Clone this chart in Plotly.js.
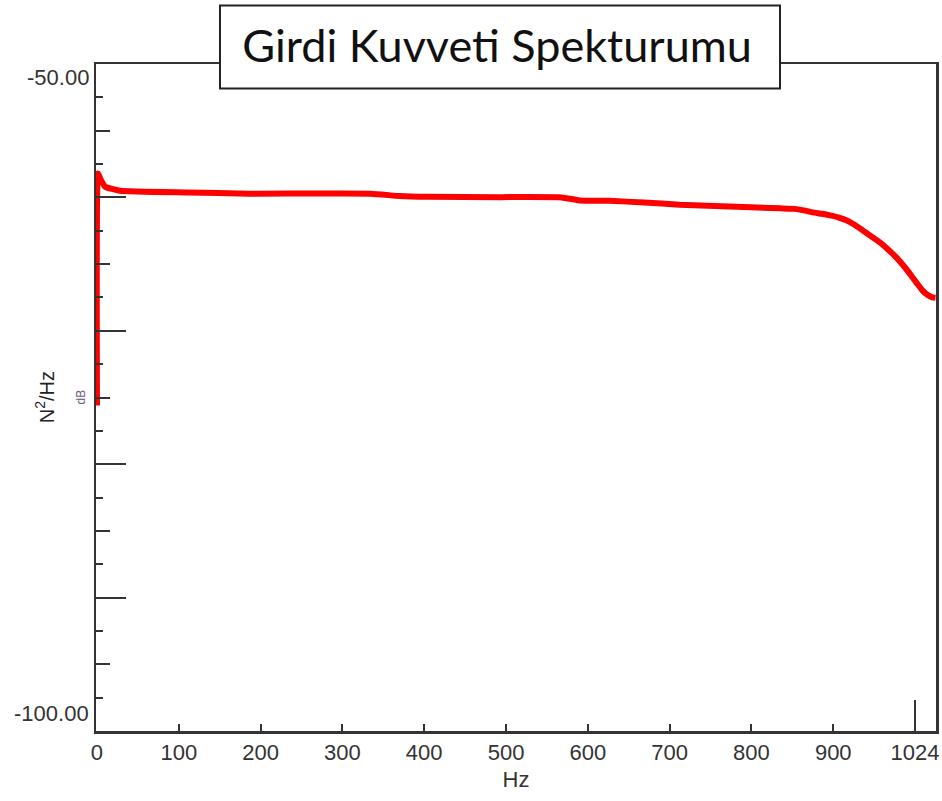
<!DOCTYPE html>
<html>
<head>
<meta charset="utf-8">
<script src="https://cdn.plot.ly/plotly-3.0.1.min.js"></script>
<style>html,body{margin:0;padding:0;background:#fff;}#chart{width:942px;height:801px;}</style>
</head>
<body>
<div id="chart"></div>
<script>
// ---- data ----
const freqHz = [0, 1.2, 4, 10, 28, 110, 186, 335, 370, 404, 492, 568, 590, 626, 669, 712, 764, 835, 853, 864, 875, 886, 896, 906, 916, 926, 936, 946, 957, 967, 977, 987, 997, 1003, 1009, 1015, 1021, 1025];
const psdDb  = [-75.6, -58.2, -58.6, -59.2, -59.5, -59.63, -59.72, -59.72, -59.9, -59.96, -59.98, -60.0, -60.23, -60.26, -60.38, -60.55, -60.67, -60.82, -60.86, -60.97, -61.12, -61.23, -61.35, -61.5, -61.72, -62.05, -62.47, -62.9, -63.37, -63.9, -64.5, -65.2, -66.0, -66.5, -66.97, -67.3, -67.49, -67.52];

const xTickVals = [0, 100, 200, 300, 400, 500, 600, 700, 800, 900, 1000];
const xTickText = ['0', '100', '200', '300', '400', '500', '600', '700', '800', '900', '1024'];
const xLongTick = [1000];
const yLongTicks = [-90, -80, -70, -60];
const yEndVals = [-50, -100];
const yEndText = ['-50.00', '-100.00'];

const titleText = 'Girdi Kuvveti Spekturumu';
const xTitle = 'Hz';
const yTitle = 'N<sup>2</sup>/Hz';
const yUnit = 'dB';

const tickFont = {family: 'Liberation Sans, Arial, sans-serif', size: 22, color: '#333'};

const trace = {
  x: freqHz, y: psdDb, type: 'scatter', mode: 'lines',
  line: {color: '#ff0000', width: 6, shape: 'spline', smoothing: 0.4},
  cliponaxis: false, hoverinfo: 'skip', showlegend: false
};
// helper invisible trace for the overlay axes
const trace2 = {x: [freqHz[0]], y: [psdDb[0]], xaxis: 'x2', yaxis: 'y2', mode: 'markers', marker: {opacity: 0}, showlegend: false, hoverinfo: 'skip'};

const layout = {
  width: 942, height: 801,
  margin: {l: 96, r: 6, t: 64, b: 70, pad: 0},
  paper_bgcolor: '#ffffff', plot_bgcolor: '#ffffff',
  showlegend: false,
  title: {
    text: titleText,
    font: {family: 'Lato, Open Sans, sans-serif', size: 45, color: '#111'},
    xref: 'paper', x: 0.4775, xanchor: 'center',
    yref: 'container', y: 0.942, yanchor: 'middle'
  },
  xaxis: {
    range: [-1.2, 1025.6], fixedrange: true,
    tickmode: 'array', tickvals: xTickVals, ticktext: xTickText,
    ticks: 'inside', ticklen: 7, tickwidth: 2, tickcolor: '#333',
    showline: true, linecolor: '#333', linewidth: 2.5, mirror: true,
    showgrid: false, zeroline: false,
    tickfont: tickFont,
    title: {text: xTitle, font: {family: 'Liberation Sans, Arial, sans-serif', size: 22, color: '#333'}, standoff: 8}
  },
  xaxis2: {
    overlaying: 'x', anchor: 'y', side: 'bottom', range: [-1.2, 1025.6],
    tickmode: 'array', tickvals: xLongTick, ticks: 'inside', ticklen: 31, tickwidth: 2, tickcolor: '#333',
    showticklabels: false, showline: false, showgrid: false, zeroline: false
  },
  yaxis: {
    range: [-100, -50], fixedrange: true,
    tickmode: 'linear', tick0: -100, dtick: 5,
    ticks: 'inside', ticklen: 14, tickwidth: 2, tickcolor: '#333',
    minor: {tickmode: 'linear', tick0: -100, dtick: 2.5, ticks: 'inside', ticklen: 7, tickwidth: 2, tickcolor: '#333', showgrid: false},
    showticklabels: false,
    showline: true, linecolor: '#333', linewidth: 2.5, mirror: true,
    showgrid: false, zeroline: false
  },
  yaxis2: {
    overlaying: 'y', anchor: 'x', side: 'left', range: [-100, -50],
    tickmode: 'array', tickvals: yLongTicks, ticks: 'inside', ticklen: 30, tickwidth: 2, tickcolor: '#333',
    showticklabels: false, showline: false, showgrid: false, zeroline: false
  },
  shapes: [{
    type: 'rect', xref: 'paper', yref: 'paper',
    x0: 0.1476, x1: 0.8143, y0: 0.9633, y1: 1.0876,
    fillcolor: '#ffffff', line: {color: '#222', width: 2}, layer: 'above'
  }],
  annotations: [
    {xref: 'paper', yref: 'y', x: 0, y: yEndVals[0], text: yEndText[0], showarrow: false,
     xanchor: 'right', yanchor: 'top', xshift: -5, yshift: 1, font: tickFont},
    {xref: 'paper', yref: 'y', x: 0, y: yEndVals[1], text: yEndText[1], showarrow: false,
     xanchor: 'right', yanchor: 'bottom', xshift: -5, yshift: 3, font: tickFont},
    {xref: 'paper', yref: 'paper', x: -0.061, y: 0.5, text: yTitle, showarrow: false, textangle: -90,
     xanchor: 'center', yanchor: 'middle', font: {family: 'Liberation Sans, Arial, sans-serif', size: 20, color: '#222'}},
    {xref: 'paper', yref: 'paper', x: -0.019, y: 0.5, text: yUnit, showarrow: false, textangle: -90,
     xanchor: 'center', yanchor: 'middle', font: {family: 'Liberation Sans, Arial, sans-serif', size: 12, color: '#6a6080'}}
  ]
};

Plotly.newPlot('chart', [trace, trace2], layout, {staticPlot: true, displayModeBar: false});
</script>
</body>
</html>
